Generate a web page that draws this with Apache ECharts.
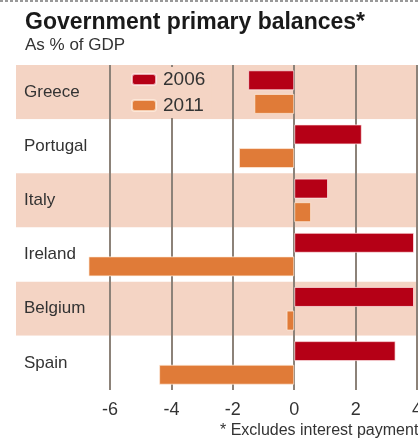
<!DOCTYPE html>
<html><head><meta charset="utf-8">
<script src="https://cdn.jsdelivr.net/npm/echarts@6/dist/echarts.min.js"></script>
<style>html,body{margin:0;padding:0;background:#fff;overflow:hidden}#c{width:418px;height:442px}</style>
</head><body><div id="c"></div>
<script>
const categories = ['Greece', 'Portugal', 'Italy', 'Ireland', 'Belgium', 'Spain'];
const values2006 = [-1.5, 2.2, 1.1, 3.9, 3.9, 3.3];
const values2011 = [-1.3, -1.8, 0.55, -6.7, -0.25, -4.4];
const tickValues = [-6, -4, -2, 0, 2, 4];
const seriesNames = ['2006', '2011'];
const titleText = 'Government primary balances*';
const subtitleText = 'As % of GDP';
const footnoteText = '* Excludes interest payments';

const FONT = '"Liberation Sans Narrow", "Liberation Sans", sans-serif';
const chart = echarts.init(document.getElementById('c'), null, {renderer: 'canvas', width: 418, height: 442});
chart.setOption({
  backgroundColor: '#ffffff',
  animation: false,
  title: {
    text: titleText,
    subtext: subtitleText,
    left: 20, top: 6,
    itemGap: 3,
    textStyle: {fontFamily: FONT, fontSize: 23, fontWeight: 'bold', color: '#1a1a1a'},
    subtextStyle: {fontFamily: FONT, fontSize: 17, color: '#333'}
  },
  legend: {
    data: seriesNames,
    orient: 'vertical',
    left: 125, top: 67,
    itemWidth: 24, itemHeight: 11, itemGap: 7,
    backgroundColor: '#f4d4c4',
    padding: [3, 6, 3, 6],
    textStyle: {fontFamily: FONT, fontSize: 19, color: '#333', padding: [0, 0, 0, 2]}
  },
  grid: {left: 16, right: 0, top: 65, bottom: 52, containLabel: false, outerBoundsMode: 'none'},
  xAxis: {
    type: 'value', min: -9.06, max: 4.03,
    axisLine: {show: false}, axisTick: {show: false, customValues: tickValues},
    axisLabel: {customValues: tickValues, fontFamily: FONT, fontSize: 18, color: '#333', margin: 11,
      formatter: v => (v < 0 ? '-' + Math.abs(v) : String(v))},
    splitLine: {show: true, lineStyle: {color: '#8c8279', width: 2}}
  },
  yAxis: {
    type: 'category', data: categories, inverse: true,
    axisLine: {show: false}, axisTick: {show: false},
    axisLabel: {inside: true, margin: 8, fontFamily: FONT, fontSize: 17, color: '#333', align: 'left'},
    splitArea: {show: true, areaStyle: {color: ['#f4d4c4', '#ffffff']}}
  },
  series: [
    {name: seriesNames[0], type: 'bar', data: values2006, barWidth: 20, barGap: '18%',
     itemStyle: {color: '#b50016', borderColor: 'rgba(255,235,235,0.7)', borderWidth: 1}},
    {name: seriesNames[1], type: 'bar', data: values2011, barWidth: 20, barGap: '18%',
     itemStyle: {color: '#e07b38', borderColor: 'rgba(255,240,225,0.7)', borderWidth: 1}}
  ],
  graphic: [
    {type: 'line', shape: {x1: 0, y1: 1, x2: 418, y2: 1}, style: {stroke: '#999', lineWidth: 2, lineDash: [3, 2]}},
    {type: 'text', left: 220, top: 423, style: {text: footnoteText, fontFamily: FONT, fontSize: 16, fill: '#333'}}
  ]
});
</script></body></html>
